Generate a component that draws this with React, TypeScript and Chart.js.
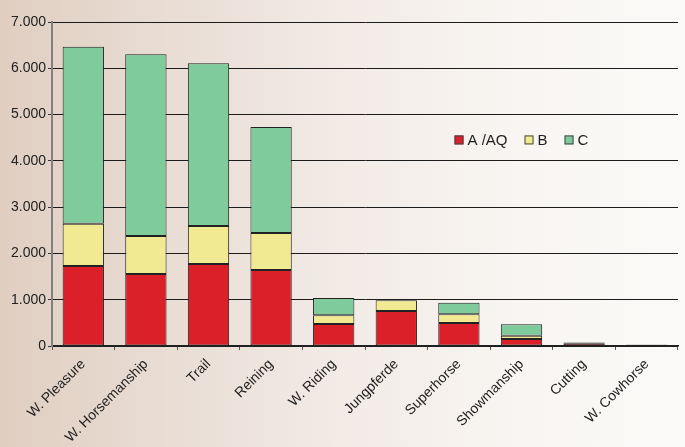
import React, { useEffect, useRef } from "react";
import { Chart, registerables } from "chart.js";

Chart.register(...registerables);

const categories = [
  "W. Pleasure",
  "W. Horsemanship",
  "Trail",
  "Reining",
  "W. Riding",
  "Jungpferde",
  "Superhorse",
  "Showmanship",
  "Cutting",
  "W. Cowhorse",
];

const seriesNames = ["A /AQ", "B", "C"];
const seriesColors = ["#db2029", "#f2ea92", "#80cb9c"];

const valuesA = [1730, 1555, 1770, 1640, 475, 755, 497, 150, 60, 25];
const valuesB = [910, 820, 820, 800, 188, 232, 188, 73, 5, 5];
const valuesC = [3825, 3930, 3520, 2290, 374, 0, 250, 246, 8, 5];

const yMax = 7000;
const yStep = 1000;

const FONT = "'Liberation Sans', Arial, sans-serif";

function formatThousands(v: number): string {
  return String(Math.round(v)).replace(/\B(?=(\d{3})+(?!\d))/g, ".");
}

// Legend drawn inside the plot area, to the right of the tall bars
const innerLegend = {
  id: "innerLegend",
  afterDraw(chart: any) {
    const { ctx, chartArea } = chart;
    const w = chartArea.right - chartArea.left;
    const h = chartArea.bottom - chartArea.top;
    let x = chartArea.left + w * 0.643;
    const y = chartArea.top + h * 0.364;
    ctx.save();
    ctx.font = `15px ${FONT}`;
    ctx.textBaseline = "middle";
    chart.data.datasets.forEach((ds: any) => {
      ctx.fillStyle = ds.backgroundColor;
      ctx.fillRect(x, y - 4.5, 9, 9);
      ctx.strokeStyle = "#444";
      ctx.lineWidth = 1;
      ctx.strokeRect(x + 0.5, y - 4, 8, 8);
      ctx.fillStyle = "#1e1e1e";
      ctx.fillText(ds.label, x + 13, y + 1);
      x += 13 + ctx.measureText(ds.label).width + 17;
    });
    ctx.restore();
  },
};

export default function App() {
  const canvasRef = useRef<HTMLCanvasElement | null>(null);

  useEffect(() => {
    document.body.style.margin = "0";
    const canvas = canvasRef.current;
    if (!canvas) return;
    const allValues = [valuesA, valuesB, valuesC];
    const chart = new Chart(canvas, {
      type: "bar",
      data: {
        labels: categories,
        datasets: allValues.map((vals, i) => ({
          label: seriesNames[i],
          data: vals,
          backgroundColor: seriesColors[i],
          borderColor: "#222",
          borderWidth: 1,
          borderSkipped: false,
          barPercentage: 0.66,
          categoryPercentage: 1,
        })),
      },
      options: {
        responsive: false,
        animation: false,
        devicePixelRatio: 1,
        layout: { padding: { top: 22, right: 7, left: 0, bottom: 0 } },
        plugins: {
          legend: { display: false },
          tooltip: { enabled: false },
        },
        scales: {
          x: {
            stacked: true,
            offset: true,
            grid: {
              display: true,
              drawOnChartArea: false,
              offset: true,
              tickLength: 4,
              tickColor: "#555",
            },
            border: { display: true, color: "#222", width: 1.5 },
            ticks: {
              maxRotation: 45,
              minRotation: 45,
              autoSkip: false,
              padding: 6,
              color: "#222",
              font: { family: FONT, size: 14 },
            },
            afterFit(scale: any) {
              scale.height = 101;
            },
          },
          y: {
            stacked: true,
            min: 0,
            max: yMax,
            grid: {
              color: "#1c1c1c",
              lineWidth: 1,
              tickLength: 4,
              tickColor: "#333",
            },
            border: { display: true, color: "#808080", width: 2 },
            ticks: {
              stepSize: yStep,
              padding: 2,
              color: "#222",
              font: { family: FONT, size: 14 },
              callback: (v: any) => formatThousands(Number(v)),
            },
            afterFit(scale: any) {
              scale.width = 52;
            },
          },
        },
      },
      plugins: [innerLegend],
    });
    return () => chart.destroy();
  }, []);

  return (
    <div
      style={{
        position: "fixed",
        left: 0,
        top: 0,
        width: 685,
        height: 447,
        background:
          "linear-gradient(90deg, #e0cec1 0%, #e9ddd4 25%, #f2ebe6 50%, #f8f5f2 75%, #fbfaf8 100%)",
      }}
    >
      <canvas ref={canvasRef} width={685} height={447} />
    </div>
  );
}
